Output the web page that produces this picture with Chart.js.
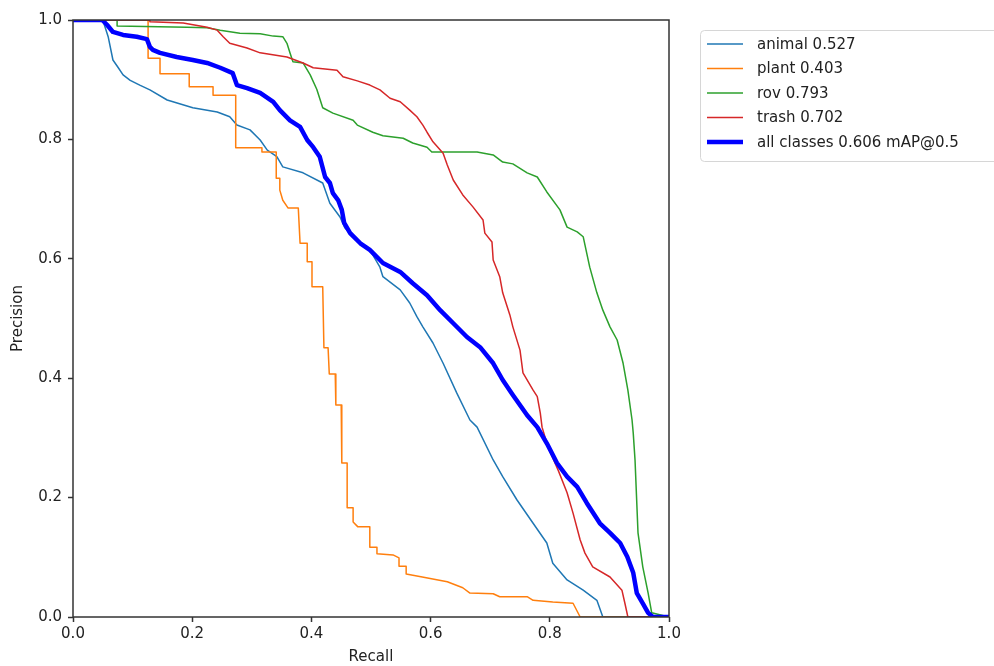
<!DOCTYPE html>
<html>
<head>
<meta charset="utf-8">
<script src="https://cdn.jsdelivr.net/npm/chart.js@4.4.0/dist/chart.umd.min.js"></script>
<style>
  body { margin: 0; background: #fff; }
  #pr_Chart { display: block; }
</style>
</head>
<body>
<canvas id="pr_Chart" width="994" height="666"></canvas>
<script>
// PR curves (recall, precision)
const animalRecall = [0, 0.050, 0.059, 0.067, 0.076, 0.084, 0.096, 0.112, 0.129, 0.158, 0.201, 0.242, 0.263, 0.275, 0.297, 0.314, 0.326, 0.342, 0.352, 0.386, 0.419, 0.431, 0.448, 0.456, 0.470, 0.498, 0.515, 0.520, 0.549, 0.565, 0.577, 0.587, 0.604, 0.621, 0.644, 0.666, 0.678, 0.705, 0.721, 0.745, 0.772, 0.795, 0.805, 0.829, 0.856, 0.879, 0.889, 1.0];
const animalPrecision = [1.0, 1.0, 0.972, 0.933, 0.920, 0.908, 0.899, 0.891, 0.883, 0.866, 0.853, 0.846, 0.838, 0.824, 0.816, 0.799, 0.782, 0.771, 0.754, 0.744, 0.727, 0.693, 0.670, 0.652, 0.637, 0.615, 0.586, 0.570, 0.548, 0.526, 0.503, 0.486, 0.459, 0.425, 0.375, 0.330, 0.318, 0.263, 0.235, 0.196, 0.157, 0.124, 0.090, 0.062, 0.045, 0.028, 0.0, 0.0];

const plantRecall = [0, 0.126, 0.126, 0.146, 0.146, 0.195, 0.195, 0.235, 0.235, 0.273, 0.273, 0.317, 0.317, 0.341, 0.341, 0.347, 0.347, 0.352, 0.361, 0.378, 0.381, 0.393, 0.393, 0.401, 0.401, 0.419, 0.421, 0.428, 0.430, 0.440, 0.441, 0.450, 0.451, 0.460, 0.460, 0.470, 0.470, 0.478, 0.498, 0.498, 0.510, 0.510, 0.537, 0.547, 0.547, 0.559, 0.559, 0.586, 0.628, 0.654, 0.666, 0.705, 0.716, 0.762, 0.772, 0.805, 0.839, 0.851, 1.0];
const plantPrecision = [1.0, 1.0, 0.936, 0.936, 0.910, 0.910, 0.888, 0.888, 0.874, 0.874, 0.786, 0.786, 0.779, 0.779, 0.735, 0.735, 0.715, 0.698, 0.685, 0.685, 0.626, 0.626, 0.595, 0.595, 0.553, 0.553, 0.451, 0.451, 0.407, 0.407, 0.355, 0.355, 0.258, 0.258, 0.183, 0.183, 0.159, 0.151, 0.151, 0.117, 0.117, 0.106, 0.104, 0.099, 0.085, 0.085, 0.072, 0.067, 0.059, 0.049, 0.040, 0.039, 0.034, 0.034, 0.028, 0.025, 0.023, 0.0, 0.0];

const rovRecall = [0, 0.074, 0.074, 0.191, 0.225, 0.247, 0.280, 0.314, 0.336, 0.352, 0.359, 0.364, 0.369, 0.386, 0.398, 0.409, 0.419, 0.436, 0.470, 0.477, 0.503, 0.520, 0.554, 0.570, 0.594, 0.602, 0.678, 0.705, 0.721, 0.738, 0.762, 0.779, 0.795, 0.817, 0.829, 0.846, 0.856, 0.867, 0.879, 0.889, 0.901, 0.913, 0.923, 0.931, 0.938, 0.940, 0.943, 0.948, 0.956, 0.965, 0.971, 1.0];
const rovPrecision = [1.0, 1.0, 0.990, 0.988, 0.987, 0.983, 0.978, 0.977, 0.973, 0.972, 0.961, 0.945, 0.930, 0.928, 0.908, 0.884, 0.853, 0.844, 0.832, 0.824, 0.812, 0.806, 0.802, 0.794, 0.787, 0.779, 0.779, 0.774, 0.762, 0.759, 0.744, 0.737, 0.712, 0.682, 0.653, 0.645, 0.637, 0.586, 0.543, 0.514, 0.486, 0.464, 0.425, 0.380, 0.330, 0.308, 0.263, 0.141, 0.084, 0.040, 0.007, 0.0];

const trashRecall = [0, 0.129, 0.129, 0.185, 0.225, 0.242, 0.252, 0.263, 0.292, 0.314, 0.359, 0.386, 0.403, 0.443, 0.453, 0.477, 0.498, 0.515, 0.532, 0.549, 0.565, 0.577, 0.587, 0.594, 0.604, 0.621, 0.628, 0.638, 0.654, 0.671, 0.688, 0.691, 0.703, 0.705, 0.716, 0.721, 0.733, 0.738, 0.750, 0.755, 0.772, 0.779, 0.784, 0.787, 0.797, 0.814, 0.829, 0.839, 0.851, 0.859, 0.872, 0.901, 0.921, 0.926, 0.931, 1.0];
const trashPrecision = [1.0, 1.0, 0.997, 0.995, 0.988, 0.983, 0.972, 0.961, 0.953, 0.945, 0.938, 0.928, 0.920, 0.916, 0.905, 0.898, 0.891, 0.883, 0.869, 0.863, 0.849, 0.838, 0.824, 0.812, 0.796, 0.777, 0.757, 0.732, 0.707, 0.687, 0.665, 0.643, 0.628, 0.598, 0.570, 0.543, 0.506, 0.486, 0.447, 0.409, 0.380, 0.369, 0.342, 0.318, 0.285, 0.246, 0.208, 0.174, 0.129, 0.107, 0.084, 0.067, 0.045, 0.023, 0.0, 0.0];

const allRecall = [0, 0.049, 0.057, 0.067, 0.084, 0.107, 0.124, 0.129, 0.134, 0.146, 0.174, 0.201, 0.225, 0.247, 0.268, 0.275, 0.292, 0.314, 0.336, 0.347, 0.364, 0.381, 0.393, 0.403, 0.414, 0.423, 0.431, 0.436, 0.445, 0.451, 0.455, 0.465, 0.482, 0.498, 0.520, 0.549, 0.570, 0.594, 0.616, 0.638, 0.661, 0.683, 0.705, 0.721, 0.738, 0.762, 0.779, 0.795, 0.812, 0.829, 0.846, 0.862, 0.884, 0.901, 0.918, 0.930, 0.940, 0.946, 0.956, 0.965, 0.973, 1.0];
const allPrecision = [1.0, 1.0, 0.992, 0.980, 0.975, 0.972, 0.968, 0.955, 0.950, 0.945, 0.938, 0.933, 0.928, 0.920, 0.911, 0.891, 0.886, 0.878, 0.863, 0.849, 0.832, 0.821, 0.799, 0.787, 0.771, 0.737, 0.727, 0.710, 0.698, 0.682, 0.660, 0.643, 0.626, 0.615, 0.593, 0.578, 0.559, 0.539, 0.514, 0.492, 0.469, 0.452, 0.425, 0.397, 0.372, 0.338, 0.318, 0.291, 0.258, 0.235, 0.218, 0.191, 0.157, 0.141, 0.124, 0.101, 0.074, 0.040, 0.023, 0.007, 0.0, 0.0];

const labels = ['animal 0.527', 'plant 0.403', 'rov 0.793', 'trash 0.702', 'all classes 0.606 mAP@0.5'];
const tickValues = [0, 0.2, 0.4, 0.6, 0.8, 1.0];

function pts(xs, ys) {
  return xs.map((x, i) => ({ x: x, y: ys[i] }));
}

const FONT = 'DejaVu Sans';

// matplotlib style box + legend
const boxLegend = {
  id: 'boxLegend',
  afterDatasetsDraw(chart) {
    const c = chart.ctx;
    const a = chart.chartArea;
    c.save();
    c.strokeStyle = '#333';
    c.lineWidth = 1.5;
    c.strokeRect(a.left, a.top, a.right - a.left, a.bottom - a.top);
    c.restore();
  },
  afterDraw(chart) {
    const c = chart.ctx;
    c.save();
    c.beginPath();
    c.roundRect(700.5, 30.5, 320, 131, 4);
    c.fillStyle = 'rgba(255,255,255,0.8)';
    c.fill();
    c.strokeStyle = '#d6d6d6';
    c.lineWidth = 1;
    c.stroke();
    c.font = '15px "' + FONT + '"';
    c.textBaseline = 'middle';
    chart.data.datasets.forEach((ds, i) => {
      const y = 44 + i * 24.5;
      c.strokeStyle = ds.borderColor;
      c.lineWidth = ds.borderWidth;
      c.beginPath();
      c.moveTo(707, y);
      c.lineTo(743, y);
      c.stroke();
      c.fillStyle = '#222';
      c.fillText(ds.label, 757, y + 1);
    });
    c.restore();
  }
};

const ctx = document.getElementById('pr_Chart');

new Chart(ctx, {
  type: 'line',
  data: {
    datasets: [
      { label: labels[0], data: pts(animalRecall, animalPrecision), borderColor: '#1f77b4', borderWidth: 1.5, order: 5 },
      { label: labels[1], data: pts(plantRecall, plantPrecision), borderColor: '#ff7f0e', borderWidth: 1.5, order: 4 },
      { label: labels[2], data: pts(rovRecall, rovPrecision), borderColor: '#2ca02c', borderWidth: 1.5, order: 3 },
      { label: labels[3], data: pts(trashRecall, trashPrecision), borderColor: '#d62728', borderWidth: 1.5, order: 2 },
      { label: labels[4], data: pts(allRecall, allPrecision), borderColor: '#0000ff', borderWidth: 4.5, order: 1 }
    ]
  },
  options: {
    responsive: false,
    animation: false,
    devicePixelRatio: 1,
    layout: { padding: { top: 20, right: 325, left: 0, bottom: 0 } },
    elements: {
      point: { radius: 0 },
      line: { tension: 0, fill: false, borderJoinStyle: 'round', borderCapStyle: 'butt' }
    },
    plugins: {
      legend: { display: false },
      tooltip: { enabled: false }
    },
    scales: {
      x: {
        type: 'linear',
        min: 0,
        max: 1,
        afterFit(scale) { scale.height = 49; },
        afterBuildTicks(scale) { scale.ticks = tickValues.map(v => ({ value: v })); },
        border: { display: false },
        grid: { drawOnChartArea: false, tickLength: 5, tickColor: '#333', tickWidth: 1.5 },
        ticks: {
          padding: 3,
          color: '#222',
          font: { family: FONT, size: 15 },
          maxRotation: 0,
          callback: v => v.toFixed(1)
        },
        title: {
          display: true,
          text: 'Recall',
          color: '#222',
          font: { family: FONT, size: 15 },
          padding: { top: 0, bottom: 0 }
        }
      },
      y: {
        type: 'linear',
        min: 0,
        max: 1,
        afterFit(scale) { scale.width = 73; },
        afterBuildTicks(scale) { scale.ticks = tickValues.map(v => ({ value: v })); },
        border: { display: false },
        grid: { drawOnChartArea: false, tickLength: 5, tickColor: '#333', tickWidth: 1.5 },
        ticks: {
          padding: 6,
          color: '#222',
          font: { family: FONT, size: 15 },
          callback: v => v.toFixed(1)
        },
        title: {
          display: true,
          text: 'Precision',
          color: '#222',
          font: { family: FONT, size: 15 },
          padding: { top: 9, bottom: 0 }
        }
      }
    }
  },
  plugins: [boxLegend]
});
</script>
</body>
</html>
